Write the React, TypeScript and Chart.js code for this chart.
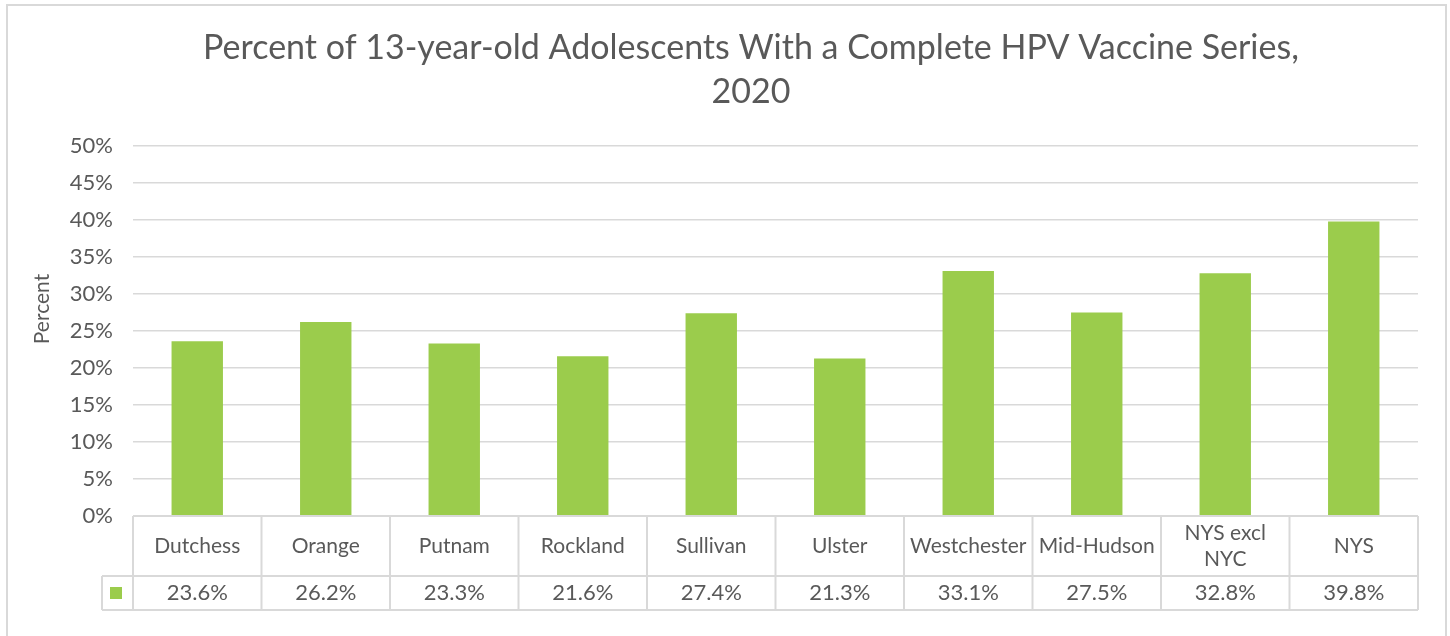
import React, { useEffect, useRef } from "react";
import { Chart, registerables } from "chart.js";

Chart.register(...registerables);

const categories: string[][] = [
  ["Dutchess"],
  ["Orange"],
  ["Putnam"],
  ["Rockland"],
  ["Sullivan"],
  ["Ulster"],
  ["Westchester"],
  ["Mid-Hudson"],
  ["NYS excl", "NYC"],
  ["NYS"],
];
const values: number[] = [23.6, 26.2, 23.3, 21.6, 27.4, 21.3, 33.1, 27.5, 32.8, 39.8];
const titleLines: string[] = ["Percent of 13-year-old Adolescents With a Complete HPV Vaccine Series,", "2020"];
const yAxisTitle = "Percent";
const yMin = 0;
const yMax = 50;
const yStep = 5;

const FONT = "Lato";
const TEXT = "#595959";
const GRID = "#d9d9d9";
const BAR = "#9BCC4C";

const tablePlugin = {
  id: "dataTable",
  beforeDraw(chart: any) {
    const ctx = chart.ctx;
    ctx.save();
    ctx.strokeStyle = GRID;
    ctx.lineWidth = 2;
    ctx.strokeRect(7, 5, 1439, 700);
    ctx.restore();
  },
  afterDraw(chart: any) {
    const ctx = chart.ctx;
    const ca = chart.chartArea;
    const xs = chart.scales.x;
    const n = values.length;
    const w = (ca.right - ca.left) / n;
    const top = ca.bottom;
    const mid = top + 60;
    const bot = top + 94;
    const legendLeft = ca.left - 31;
    ctx.save();
    ctx.strokeStyle = GRID;
    ctx.lineWidth = 2;
    ctx.beginPath();
    ctx.moveTo(ca.left, top);
    ctx.lineTo(ca.right, top);
    ctx.moveTo(legendLeft, mid);
    ctx.lineTo(ca.right, mid);
    ctx.moveTo(legendLeft, bot);
    ctx.lineTo(ca.right, bot);
    for (let i = 0; i <= n; i++) {
      const x = ca.left + i * w;
      ctx.moveTo(x, top);
      ctx.lineTo(x, bot);
    }
    ctx.moveTo(legendLeft, mid);
    ctx.lineTo(legendLeft, bot);
    ctx.stroke();

    // legend key
    ctx.fillStyle = BAR;
    ctx.fillRect(legendLeft + 8, (mid + bot) / 2 - 6, 12, 12);

    ctx.fillStyle = TEXT;
    ctx.textAlign = "center";
    ctx.textBaseline = "middle";

    // category row
    ctx.font = `21px ${FONT}`;
    const lh = 26;
    categories.forEach((lines, i) => {
      const x = xs.getPixelForValue(i);
      const cy = (top + mid) / 2;
      const y0 = cy - ((lines.length - 1) * lh) / 2;
      lines.forEach((s, k) => ctx.fillText(s, x, y0 + k * lh));
    });

    // values row
    ctx.font = `22px ${FONT}`;
    values.forEach((v, i) => {
      ctx.fillText(v.toFixed(1) + "%", xs.getPixelForValue(i), (mid + bot) / 2);
    });

    // title
    ctx.font = `34px ${FONT}`;
    ctx.fillText(titleLines[0], 751, 48);
    ctx.fillText(titleLines[1], 751, 92);

    // y-axis title
    ctx.font = `21px ${FONT}`;
    ctx.translate(42, 309);
    ctx.rotate(-Math.PI / 2);
    ctx.fillText(yAxisTitle, 0, 0);
    ctx.restore();
  },
};

export default function App() {
  const ref = useRef<HTMLCanvasElement>(null);
  useEffect(() => {
    if (!ref.current) return;
    const chart = new Chart(ref.current, {
      type: "bar",
      data: {
        labels: categories.map((c) => c.join(" ")),
        datasets: [
          {
            label: "Percent",
            data: values,
            backgroundColor: BAR,
            categoryPercentage: 0.8,
            barPercentage: 0.5,
          },
        ],
      },
      options: {
        animation: false,
        responsive: false,
        layout: { padding: { left: 0, right: 32, top: 146, bottom: 0 }, autoPadding: false },
        plugins: {
          legend: { display: false },
          tooltip: { enabled: false },
          title: { display: false },
        },
        scales: {
          x: {
            grid: { display: false, drawTicks: false },
            border: { display: false },
            ticks: { display: false },
            afterFit(scale: any) {
              scale.height = 120;
            },
          },
          y: {
            min: yMin,
            max: yMax,
            grid: { color: GRID, lineWidth: 1.5, drawTicks: false },
            border: { display: false },
            ticks: {
              stepSize: yStep,
              color: TEXT,
              font: { family: FONT, size: 22 },
              padding: 20,
              callback: (v: any) => v + "%",
            },
            afterFit(scale: any) {
              scale.width = 133;
            },
          },
        },
      },
      plugins: [tablePlugin],
    });
    return () => chart.destroy();
  }, []);
  return (
    <div style={{ position: "fixed", left: 0, top: 0, width: 1450, height: 636, background: "#fff" }}>
      <canvas ref={ref} width={1450} height={636} />
    </div>
  );
}
